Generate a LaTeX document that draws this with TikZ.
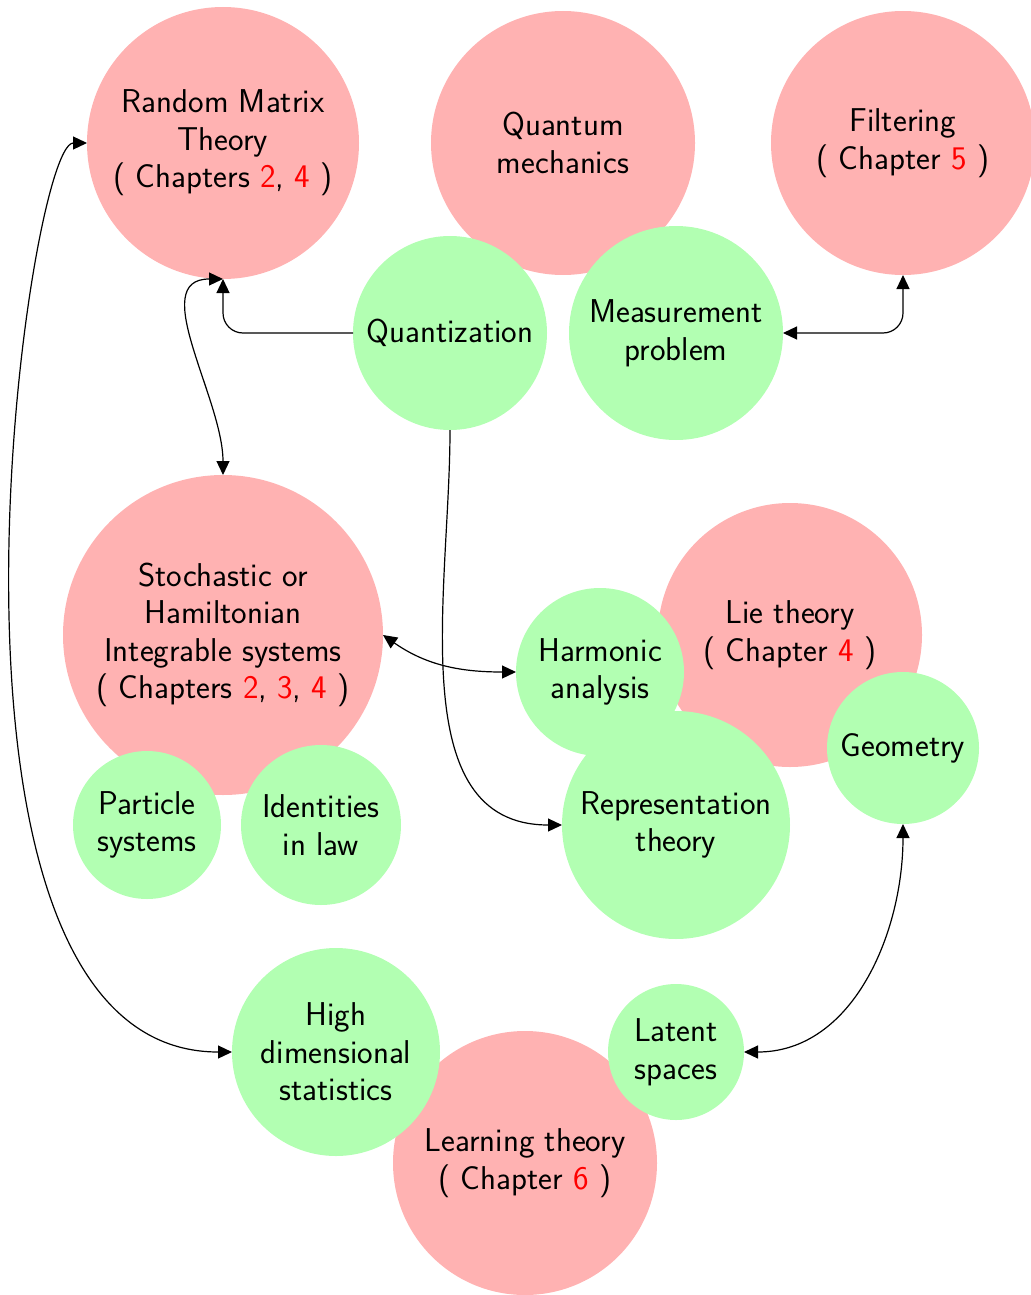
\documentclass[tikz,border=0pt]{standalone}
\usetikzlibrary{arrows.meta}
\begin{document}
\begin{tikzpicture}[x=0.5pt,y=-0.5pt,
  every node/.style={font=\sffamily\fontsize{16.5}{18.8}\selectfont, align=center, inner sep=0pt, outer sep=0pt},
  redc/.style={circle, fill=red!30, minimum size=#1pt},
  greenc/.style={circle, fill=green!30, minimum size=#1pt},
  conn/.style={line width=0.6pt, {Triangle[length=7pt,width=6.5pt]}-{Triangle[length=7pt,width=6.5pt]}},
  conntwo/.style={line width=0.6pt, -{Triangle[length=7pt,width=6.5pt]}}]
\useasboundingbox (0,0) rectangle (1030,1295);
% red circles
\node[redc=136] (rmt) at (223,143) {Random Matrix\\Theory\\( Chapters \textcolor{red}{2}, \textcolor{red}{4} )};
\node[redc=132] (qm) at (563,143) {Quantum\\mechanics};
\node[redc=132] (filt) at (903,143) {Filtering\\( Chapter \textcolor{red}{5} )};
\node[redc=160] (stoch) at (223,635) {Stochastic or\\Hamiltonian\\Integrable systems\\( Chapters \textcolor{red}{2}, \textcolor{red}{3}, \textcolor{red}{4} )};
\node[redc=132] (lie) at (790,635) {Lie theory\\( Chapter \textcolor{red}{4} )};
\node[redc=132] (learn) at (525,1163) {Learning theory\\( Chapter \textcolor{red}{6} )};
% green circles
\node[greenc=97] (quant) at (450,333) {Quantization};
\node[greenc=107] (meas) at (676,333) {Measurement\\problem};
\node[greenc=84] (harm) at (600,672) {Harmonic\\analysis};
\node[greenc=114] (rep) at (676,825) {Representation\\theory};
\node[greenc=76] (geom) at (903,748) {Geometry};
\node[greenc=74] (part) at (147,825) {Particle\\systems};
\node[greenc=80] (ident) at (321,825) {Identities\\in law};
\node[greenc=104] (hd) at (336,1052) {High\\dimensional\\statistics};
\node[greenc=68] (latent) at (676,1052) {Latent\\spaces};
% connectors
\draw[conntwo, rounded corners=10pt] (quant.west) -| (rmt.south);
\draw[conn] (rmt.south) to[out=180,in=90] (stoch.north);
\draw[conn, rounded corners=10pt] (meas.east) -| (filt.south);
\draw[conntwo] (quant.south) to[out=-90,in=180] (rep.west);
\draw[conn] (stoch.east) to[out=-35,in=180] (harm.west);
\draw[conn] (rmt.west) .. controls (26,143) and (-100,1052) .. (hd.west);
\draw[conn] (geom.south) to[out=-90,in=0] (latent.east);
\end{tikzpicture}
\end{document}
